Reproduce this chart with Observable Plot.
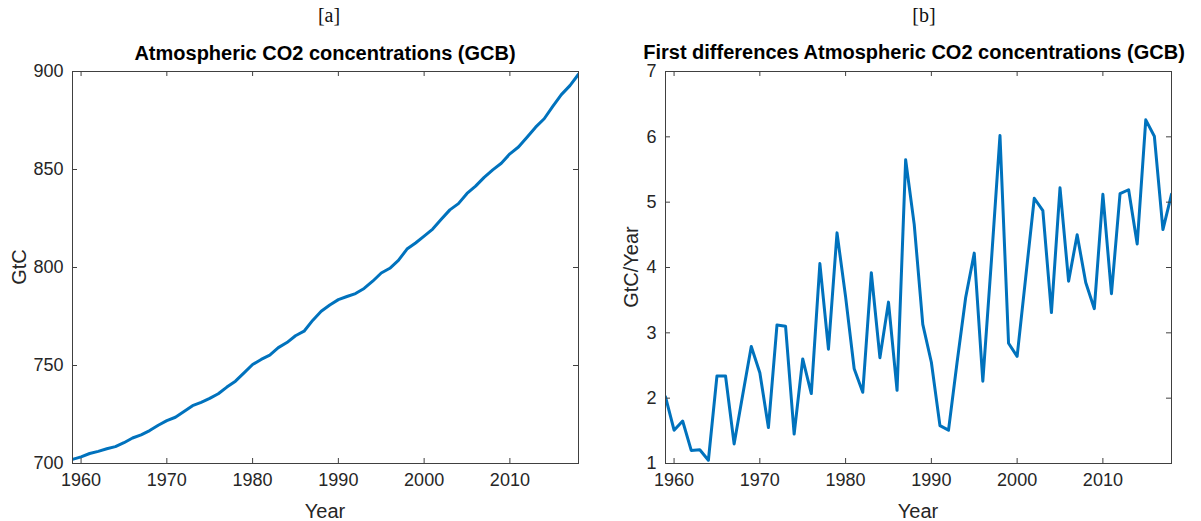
<!DOCTYPE html>
<html>
<head>
<meta charset="utf-8">
<script src="https://cdn.jsdelivr.net/npm/d3@7"></script>
<script src="https://cdn.jsdelivr.net/npm/@observablehq/plot@0.6"></script>
<style>
  body { margin: 0; background: #fff; }
  #wrap { position: relative; width: 1201px; height: 521px; background: #fff; overflow: hidden; }
  .t { position: absolute; white-space: nowrap; line-height: 1; color: #262626; font-family: "Liberation Sans", Arial, Helvetica, sans-serif; }
  .panel { position: absolute; top: 0; }
</style>
</head>
<body>
<div id="wrap">
  <div class="panel" id="pa" style="left:0px"></div>
  <div class="panel" id="pb" style="left:600px"></div>
  <div class="t" style="left:329px;top:5px;transform:translateX(-50%);font-family:'Liberation Serif','DejaVu Serif',serif;font-size:20px;color:#111">[a]</div>
  <div class="t" style="left:924px;top:5px;transform:translateX(-50%);font-family:'Liberation Serif','DejaVu Serif',serif;font-size:20px;color:#111">[b]</div>
  <div class="t" style="left:325px;top:43px;transform:translateX(-50%);font-size:20px;font-weight:bold;color:#000">Atmospheric CO2 concentrations (GCB)</div>
  <div class="t" style="left:914px;top:42px;transform:translateX(-50%);font-size:20px;font-weight:bold;color:#000">First differences Atmospheric CO2 concentrations (GCB)</div>
  <div class="t" style="left:325px;top:501px;transform:translateX(-50%);font-size:20px">Year</div>
  <div class="t" style="left:918px;top:501px;transform:translateX(-50%);font-size:20px">Year</div>
  <div class="t" style="left:19px;top:267px;transform:translate(-50%,-50%) rotate(-90deg);font-size:20px">GtC</div>
  <div class="t" style="left:631px;top:267px;transform:translate(-50%,-50%) rotate(-90deg);font-size:20px">GtC/Year</div>
</div>
<script>
const years = [1959,1960,1961,1962,1963,1964,1965,1966,1967,1968,1969,
  1970,1971,1972,1973,1974,1975,1976,1977,1978,1979,
  1980,1981,1982,1983,1984,1985,1986,1987,1988,1989,
  1990,1991,1992,1993,1994,1995,1996,1997,1998,1999,
  2000,2001,2002,2003,2004,2005,2006,2007,2008,2009,
  2010,2011,2012,2013,2014,2015,2016,2017,2018];

const co2 = [702.1,703.4,705.1,706.2,707.5,708.6,710.6,713.0,714.6,716.8,719.5,
  721.9,723.6,726.5,729.5,731.2,733.2,735.6,739.0,742.0,746.2,
  750.5,753.1,755.3,759.1,761.7,765.2,767.5,773.0,777.7,780.9,
  783.6,785.2,786.7,789.3,793.0,797.2,799.6,803.6,809.4,812.5,
  816.0,819.6,824.6,829.4,832.6,837.8,841.5,846.0,849.8,853.2,
  858.0,861.5,866.5,871.6,875.9,882.2,888.2,892.8,898.6];

const diff = [2.02,1.51,1.65,1.20,1.21,1.05,2.34,2.34,1.30,2.05,2.79,
  2.39,1.55,3.12,3.10,1.45,2.60,2.07,4.06,2.75,4.53,
  3.55,2.45,2.09,3.92,2.62,3.47,2.12,5.65,4.66,3.13,
  2.55,1.58,1.51,2.55,3.54,4.22,2.26,4.10,6.02,2.84,
  2.64,3.85,5.06,4.87,3.31,5.22,3.79,4.50,3.77,3.37,
  5.12,3.60,5.13,5.19,4.36,6.26,6.01,4.58,5.12];

const xTicks = [1960,1970,1980,1990,2000,2010];
const yTicksA = [700,750,800,850,900];
const yTicksB = [1,2,3,4,5,6,7];

const dataA = years.map((y,i) => ({year: y, value: co2[i]}));
const dataB = years.map((y,i) => ({year: y, value: diff[i]}));

const H = 521, MT = 71, MB = 58;
const innerH = H - MT - MB;
const axisColor = "#404040";
const lineColor = "#0072BD";
const TL = 5;

function panel(data, yDomain, yTicks, width, ml, mr) {
  const innerW = width - ml - mr;
  return Plot.plot({
    width, height: H,
    marginLeft: ml, marginRight: mr, marginTop: MT, marginBottom: MB,
    style: {fontFamily: "'Liberation Sans', Arial, Helvetica, sans-serif", color: "#262626", background: "#fff", overflow: "visible"},
    x: {domain: [1959, 2018]},
    y: {domain: yDomain},
    marks: [
      Plot.line(data, {x: "year", y: "value", stroke: lineColor, strokeWidth: 3, clip: true}),
      Plot.ruleX(xTicks, {x: d => d, stroke: axisColor, strokeWidth: 1, insetTop: innerH - TL}),
      Plot.ruleX(xTicks, {x: d => d, stroke: axisColor, strokeWidth: 1, insetBottom: innerH - TL}),
      Plot.ruleY(yTicks, {y: d => d, stroke: axisColor, strokeWidth: 1, insetRight: innerW - TL}),
      Plot.ruleY(yTicks, {y: d => d, stroke: axisColor, strokeWidth: 1, insetLeft: innerW - TL}),
      Plot.frame({stroke: axisColor, strokeWidth: 1}),
      Plot.axisX(xTicks, {tickSize: 0, tickPadding: 10, fontSize: 18, label: null, tickFormat: d => String(d)}),
      Plot.axisY(yTicks, {tickSize: 0, tickPadding: 9, fontSize: 18, label: null, tickFormat: d => String(d)})
    ]
  });
}

document.getElementById("pa").appendChild(panel(dataA, [700, 900], yTicksA, 600, 72, 22));
document.getElementById("pb").appendChild(panel(dataB, [1, 7], yTicksB, 601, 65, 30));
</script>
</body>
</html>
